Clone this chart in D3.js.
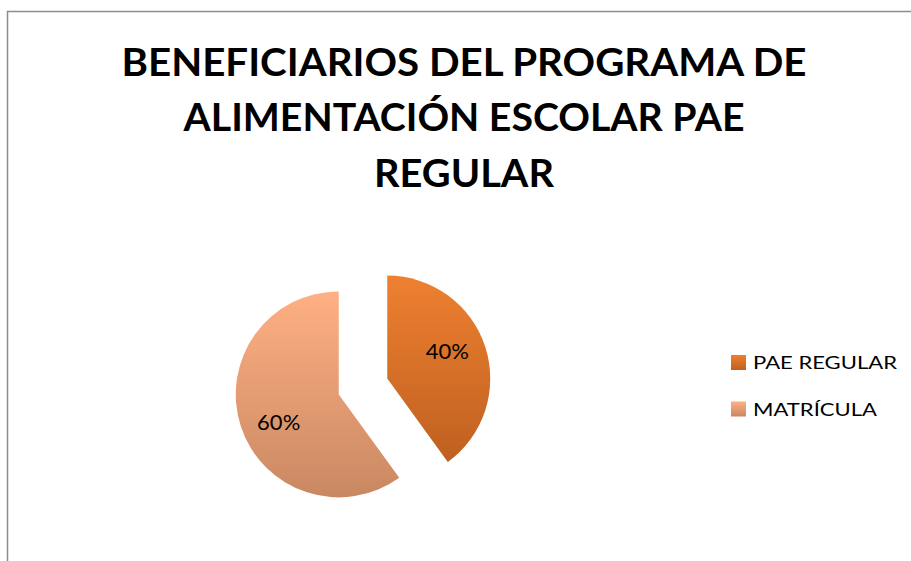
<!DOCTYPE html>
<html>
<head>
<meta charset="utf-8">
<script src="https://cdn.jsdelivr.net/npm/d3@7"></script>
<style>
  body { margin: 0; background: #fff; }
  svg { display: block; font-family: Lato, "Open Sans", sans-serif; }
</style>
</head>
<body>
<div id="chart"></div>
<script>
// chart values
const categories = ["PAE REGULAR", "MATRÍCULA"];
const values = [40, 60];
const labels = ["40%", "60%"];
const titleLines = ["BENEFICIARIOS DEL PROGRAMA DE", "ALIMENTACIÓN ESCOLAR PAE", "REGULAR"];

const width = 911, height = 561;
const cx = 363, cy = 386.5, radius = 103, explode = 25.5;

// gradient stops per slice (top -> bottom)
const colors = [["#ee8030", "#bf6020"], ["#ffb084", "#c98862"]];

const svg = d3.select("#chart").append("svg")
  .attr("width", width)
  .attr("height", height);

// chart frame
svg.append("rect")
  .attr("x", 7.5).attr("y", 11.5)
  .attr("width", 1000).attr("height", 1000)
  .attr("fill", "none")
  .attr("stroke", "#8c8c8c")
  .attr("stroke-width", 1.5);

const defs = svg.append("defs");
colors.forEach((c, i) => {
  const g = defs.append("linearGradient")
    .attr("id", "grad" + i)
    .attr("x1", 0).attr("y1", 0).attr("x2", 0).attr("y2", 1);
  g.append("stop").attr("offset", "0%").attr("stop-color", c[0]);
  g.append("stop").attr("offset", "100%").attr("stop-color", c[1]);
});

// title
const title = svg.append("g");
const titleWidths = [685, 561, 180];
titleLines.forEach((t, i) => {
  title.append("text")
    .attr("x", 464)
    .attr("y", 75.5 + i * 55.5)
    .attr("text-anchor", "middle")
    .attr("font-size", 38)
    .attr("font-weight", "bold")
    .attr("fill", "#000")
    .attr("textLength", titleWidths[i])
    .attr("lengthAdjust", "spacingAndGlyphs")
    .text(t);
});

// pie
const pie = d3.pie().sort(null).value(d => d);
const arc = d3.arc().innerRadius(0).outerRadius(radius);
const arcs = pie(values);

const slices = svg.append("g")
  .attr("transform", `translate(${cx},${cy})`)
  .selectAll("g")
  .data(arcs)
  .enter()
  .append("g")
  .attr("transform", d => {
    const a = (d.startAngle + d.endAngle) / 2;
    return `translate(${Math.sin(a) * explode},${-Math.cos(a) * explode})`;
  });

slices.append("path")
  .attr("d", arc)
  .attr("fill", (d, i) => `url(#grad${i})`);

// data labels
slices.append("text")
  .attr("transform", d => {
    const a = (d.startAngle + d.endAngle) / 2 - 6.5 * Math.PI / 180;
    return `translate(${Math.sin(a) * 66},${-Math.cos(a) * 66})`;
  })
  .attr("text-anchor", "middle")
  .attr("dy", "0.36em")
  .attr("font-size", 22)
  .attr("fill", "#000")
  .text((d, i) => labels[i]);

// legend
const legendWidths = [144, 124];
const legend = svg.append("g")
  .selectAll("g")
  .data(categories)
  .enter()
  .append("g")
  .attr("transform", (d, i) => `translate(731,${355 + i * 46.5})`);

legend.append("rect")
  .attr("width", 15).attr("height", 15)
  .attr("fill", (d, i) => `url(#grad${i})`);

legend.append("text")
  .attr("x", 22)
  .attr("y", 14)
  .attr("font-size", 17.5)
  .attr("fill", "#000")
  .attr("textLength", (d, i) => legendWidths[i])
  .attr("lengthAdjust", "spacingAndGlyphs")
  .text(d => d);
</script>
</body>
</html>
